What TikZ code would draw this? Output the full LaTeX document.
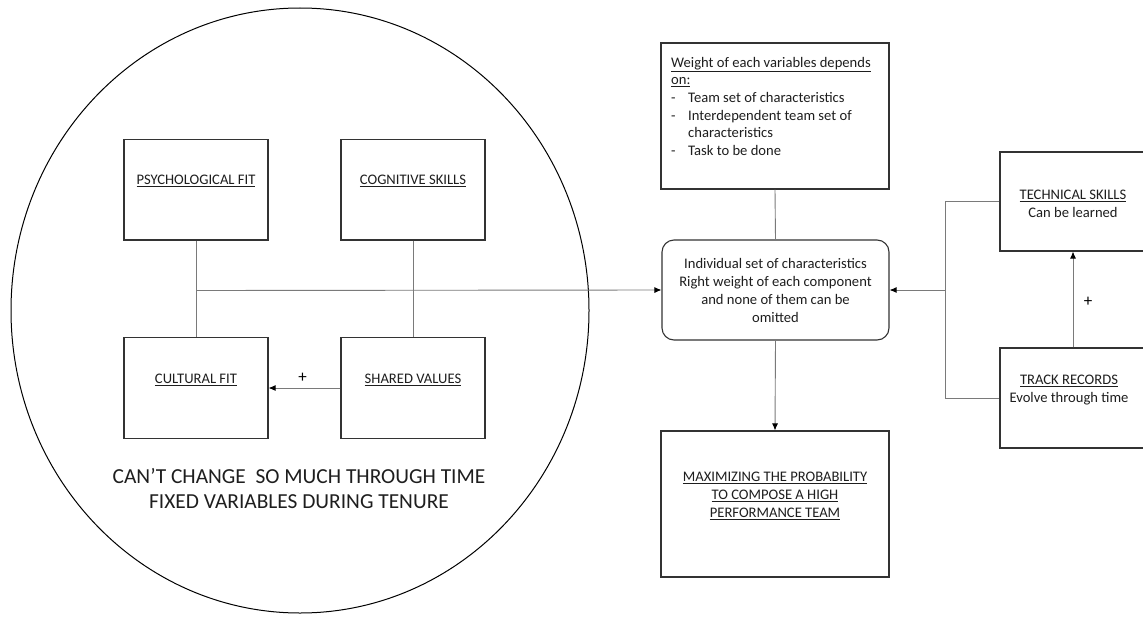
\documentclass[tikz,border=0pt]{standalone}
\usepackage{fontspec}
\setmainfont{Carlito}
\usetikzlibrary{arrows.meta}
\definecolor{boxline}{HTML}{333333}
\definecolor{wire}{HTML}{7A7A7A}
\definecolor{ink}{HTML}{1E1E1E}
\newcommand{\ul}[1]{\underline{#1}}
\begin{document}
\begin{tikzpicture}[x=1pt,y=-1pt,
  box/.style={draw=boxline, line width=1.1pt, fill=white, inner sep=0pt},
  txt/.style={text=ink, inner sep=0pt, font=\fontsize{14.6}{18}\selectfont, align=center},
  wireline/.style={draw=wire, line width=0.9pt},
  arr/.style={wireline, -{Latex[length=7pt,width=6pt,color=black]}},
  plus/.style={text=black, inner sep=0pt, font=\fontsize{17}{17}\selectfont}]
\useasboundingbox (0,0) rectangle (1143,618);

% outer ellipse holding the fixed variables
\draw[line width=1pt, black] (300,310.5) ellipse [x radius=289, y radius=302.5];

% boxes inside the ellipse
\node[box, minimum width=144pt, minimum height=100.5pt] (psy) at (196,189.75) {};
\node[box, minimum width=144pt, minimum height=100.5pt] (cog) at (413,189.75) {};
\node[box, minimum width=144pt, minimum height=100.5pt] (cul) at (196,388) {};
\node[box, minimum width=144pt, minimum height=100.5pt] (sha) at (413,388) {};
\node[txt] (psyt) at (196,181) {\ul{PSYCHOLOGICAL FIT}};
\node[txt] (cogt) at (413,181) {\ul{COGNITIVE SKILLS}};
\node[txt] (cult) at (196,380) {\ul{CULTURAL FIT}};
\node[txt] (shat) at (413,380) {\ul{SHARED VALUES}};

\node[txt, font=\fontsize{21.4}{25}\selectfont] (fixed) at (299,488.5)
  {CAN’T CHANGE \ SO MUCH THROUGH TIME\\FIXED VARIABLES DURING TENURE};

% right-hand column
\node[box, minimum width=228pt, minimum height=146pt] (wgt) at (775,116) {};
\node[txt, anchor=north west, align=left, font=\fontsize{14.6}{17.6}\selectfont] (wgtt) at (671,57)
  {\ul{Weight of each variables depends}\\
   \ul{on:}\\
   \makebox[17pt][l]{-}Team set of characteristics\\
   \makebox[17pt][l]{-}Interdependent team set of\\
   \hspace*{17pt}characteristics\\
   \makebox[17pt][l]{-}Task to be done};

\node[box, rounded corners=12pt, minimum width=227pt, minimum height=100pt] (ind) at (775.5,290) {};
\node[txt] (indt) at (775.5,290.5)
  {Individual set of characteristics\\Right weight of each component\\and none of them can be\\omitted};

\node[box, minimum width=228pt, minimum height=146pt] (max) at (775,504) {};
\node[txt] (maxt) at (775,496)
  {\ul{MAXIMIZING THE PROBABILITY}\\\ul{TO COMPOSE A HIGH}\\\ul{PERFORMANCE TEAM}};

\node[box, minimum width=146pt, minimum height=99pt] (tech) at (1073,201.5) {};
\node[txt] (techt) at (1073,204) {\ul{TECHNICAL SKILLS}\\Can be learned};
\node[box, minimum width=146pt, minimum height=100pt] (trk) at (1073,398) {};
\node[txt] (trkt) at (1069,390.5) {\ul{TRACK RECORDS}\\Evolve through time};

% connectors
\coordinate (join) at (196.7,290.5);
\coordinate (rtop) at (945,201.5);
\coordinate (rbot) at (945,398);
\coordinate (rmid) at (945,290);
\draw[wireline] (psy.south) -- (cul.north);
\draw[wireline] (cog.south) -- (sha.north);
\draw[arr] (join) -- (ind.west);
\draw[arr] (sha.west) -- (cul.east);
\node[plus] (p1) at (302.7,378) {+};
\draw[wireline] (wgt.south) -- (ind.north);
\draw[arr] (ind.south) -- (max.north);
\draw[wireline] (tech.west) -- (rtop) -- (rbot) -- (trk.west);
\draw[arr] (rmid) -- (ind.east);
\draw[arr] (trk.north) -- (tech.south);
\node[plus] (p2) at (1088,302) {+};
\end{tikzpicture}
\end{document}
